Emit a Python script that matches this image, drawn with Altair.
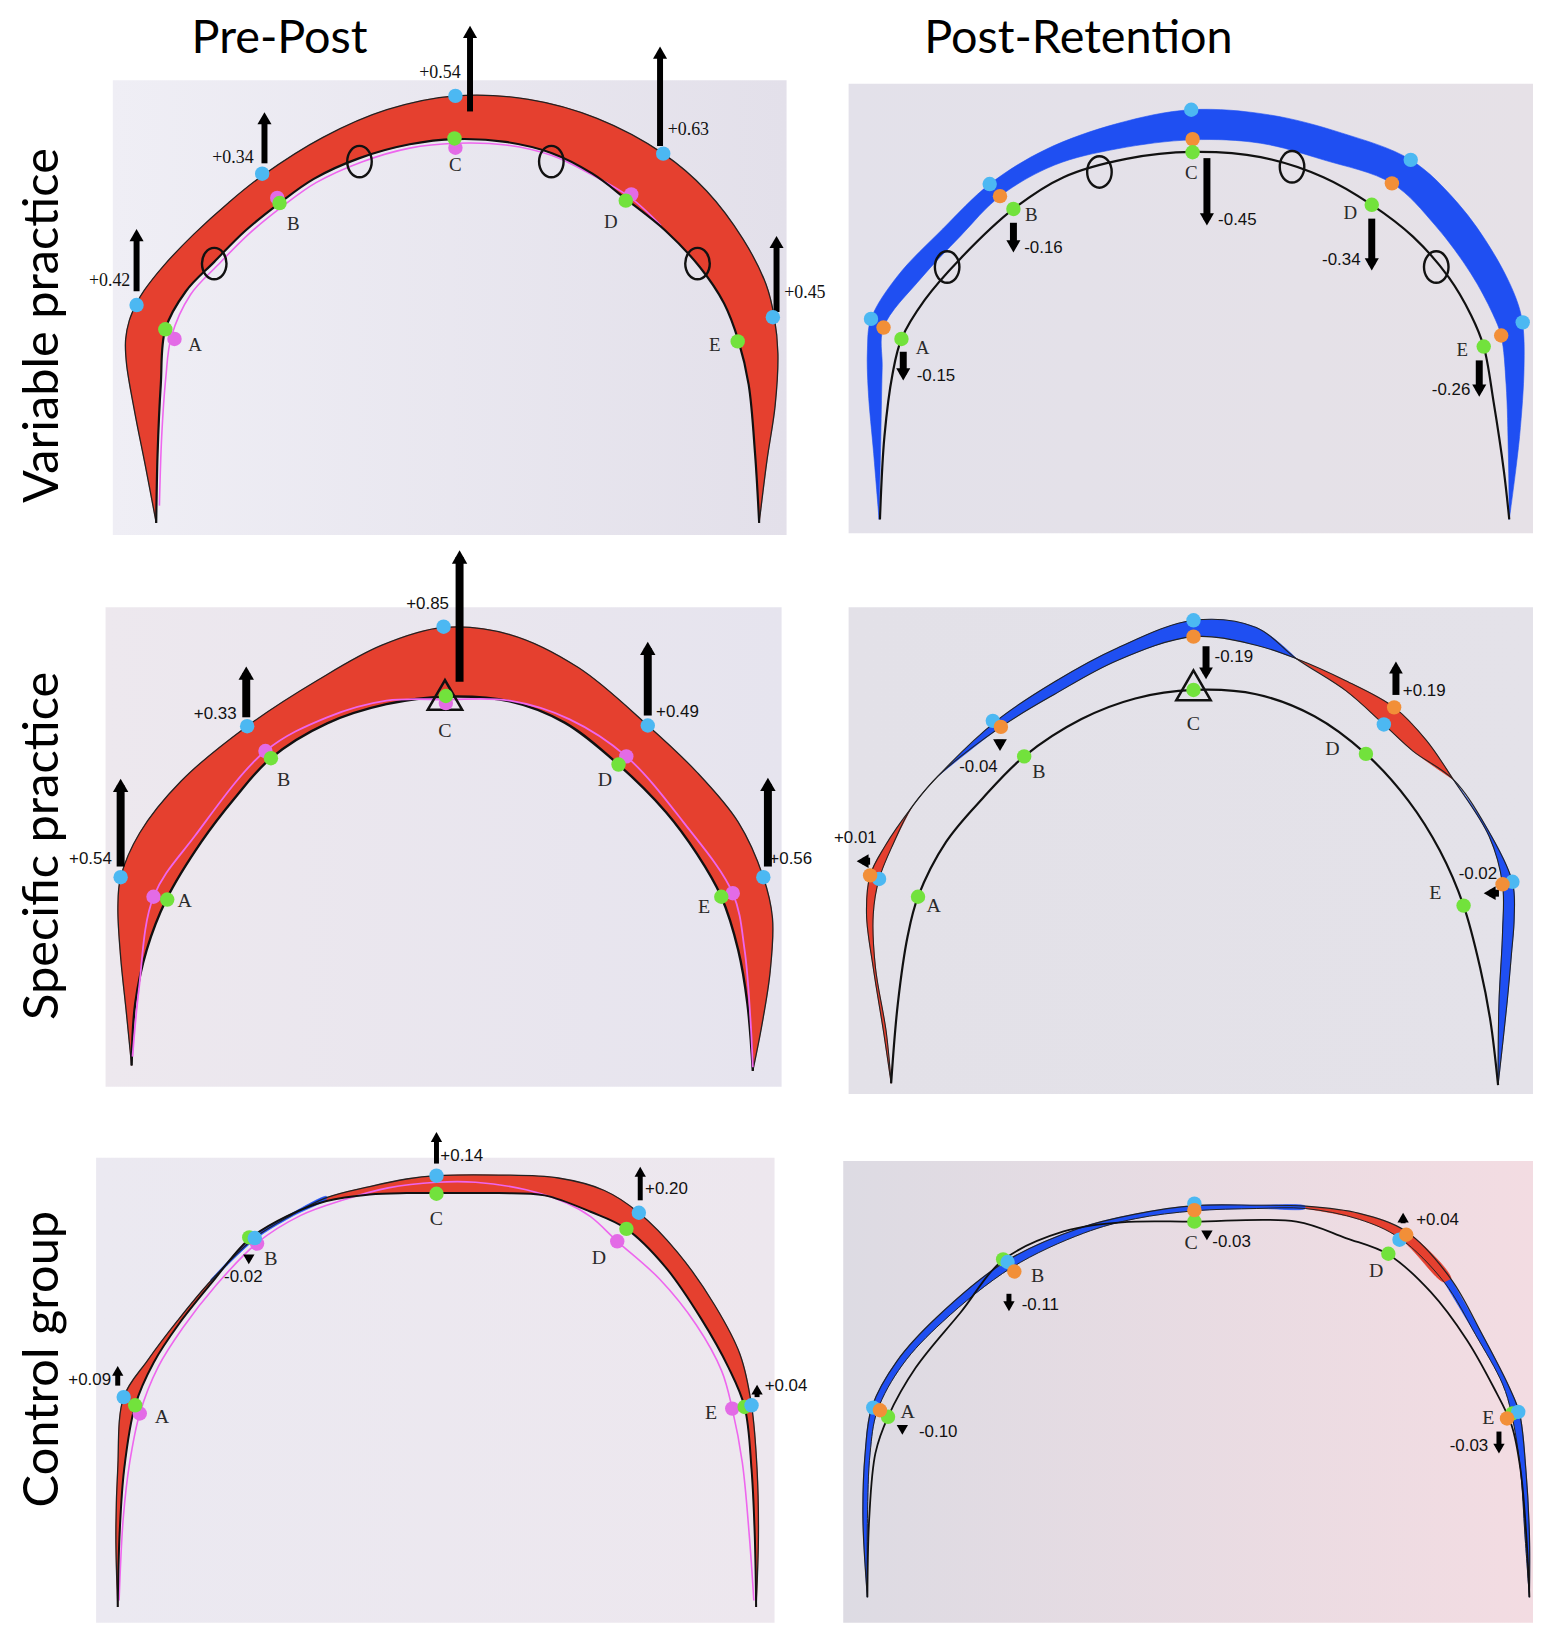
import math
import altair as alt
import pandas as pd

# ---------------------------------------------------------------------------
# Each panel was digitised in its own frame (figure pixels: x0, y0, w, h);
# digitised units run 0..1568 across and down that frame.
U = 1568.0
FRAME = {
    "vp_pp": (95, 0, 720, 545),
    "vp_pr": (835, 0, 706, 545),
    "sp_pp": (90, 540, 720, 560),
    "sp_pr": (835, 540, 706, 560),
    "cg_pp": (85, 1110, 725, 517),
    "cg_pr": (835, 1110, 706, 517),
}
# visible window of every panel (figure pixels: x0, y0, x1, y1)
WIN = {
    "vp_pp": (8, 8, 815, 545),
    "vp_pr": (815, 8, 1533, 545),
    "sp_pp": (8, 545, 815, 1100),
    "sp_pr": (815, 545, 1533, 1100),
    "cg_pp": (8, 1100, 815, 1619),
    "cg_pr": (815, 1100, 1533, 1619),
}

HEADERS = ["Pre-Post", "Post-Retention"]
HEADER_AT = [(281, 49), (1084, 49)]
ROW_LABELS = ["Variable practice", "Specific practice", "Control group"]
ROW_LABEL_AT = [(58, 323), (58, 846), (58, 1362)]
LETTERS = ["A", "B", "C", "D", "E"]

# ---------------- Variable practice, Pre-Post ----------------
VP_PP_BG = [(40, 220), (1515, 1535)]
VP_PP_OUTER = [(135, 1500), (112, 1340), (88, 1180), (70, 1040), (68, 970), (76, 915), (92, 865),
               (109, 827), (152, 755), (218, 664), (294, 573), (367, 496), (500, 385), (640, 305),
               (790, 265), (950, 275), (1100, 330), (1245, 432), (1340, 540), (1420, 680),
               (1470, 810), (1488, 905), (1496, 1010), (1490, 1160), (1472, 1320), (1455, 1500)]
VP_PP_INNER = [(135, 1500), (138, 1300), (145, 1100), (155, 940), (200, 830), (262, 745), (330, 655),
               (405, 575), (480, 505), (580, 445), (690, 405), (790, 390), (900, 398), (1000, 430),
               (1090, 490), (1165, 565), (1250, 655), (1325, 760), (1378, 865), (1410, 975),
               (1432, 1100), (1446, 1300), (1455, 1500)]
VP_PP_MAGENTA = [(142, 1450), (147, 1250), (156, 1080), (168, 962), (210, 840), (270, 754), (338, 664),
                 (410, 586), (485, 516), (585, 456), (690, 416), (790, 402), (900, 407), (1000, 437),
                 (1090, 494), (1172, 558), (1240, 640)]
VP_PP_BLUE = [(92, 870), (367, 490), (790, 265), (1245, 432), (1485, 905)]
VP_PP_GREEN = [(155, 940), (405, 575), (788, 388), (1163, 568), (1408, 975)]
VP_PP_PINK = [(175, 968), (400, 560), (790, 415), (1175, 550)]
VP_PP_ARROW_BASE = [(92, 830), (372, 460), (822, 310), (1238, 410), (1493, 890)]
VP_PP_ARROW_TIP = [(92, 650), (372, 312), (822, 62), (1238, 122), (1493, 670)]
VP_PP_CHANGE = ["+0.42", "+0.34", "+0.54", "+0.63", "+0.45"]
VP_PP_CHANGE_AT = [(33, 800), (303, 445), (756, 200), (1300, 365), (1555, 835)]
VP_PP_LETTER_AT = [(220, 985), (435, 635), (790, 465), (1130, 630), (1358, 985)]
VP_PP_OVALS = [(580, 455), (1000, 455), (262, 750), (1320, 750)]

# ---------------- Variable practice, Post-Retention ----------------
VP_PR_BG = [(40, 230), (1568, 1530)]
VP_PR_OUTER = [(108, 1490), (96, 1300), (84, 1120), (82, 1000), (90, 910), (150, 785), (250, 650),
               (355, 520), (480, 420), (640, 345), (805, 305), (980, 320), (1140, 372), (1295, 450),
               (1400, 575), (1480, 720), (1530, 850), (1545, 925), (1548, 1050), (1538, 1250),
               (1515, 1490)]
VP_PR_MID = [(108, 1490), (112, 1250), (115, 1050), (118, 935), (200, 795), (290, 670), (378, 555),
             (500, 465), (640, 418), (808, 392), (960, 402), (1100, 450), (1253, 518), (1350, 640),
             (1430, 780), (1478, 895), (1497, 960), (1508, 1100), (1513, 1300), (1515, 1490)]
VP_PR_INNER = [(110, 1490), (120, 1250), (138, 1070), (158, 968), (210, 855), (290, 735), (408, 592),
               (520, 500), (660, 447), (808, 427), (960, 442), (1100, 500), (1208, 580), (1300, 672),
               (1380, 790), (1430, 900), (1458, 990), (1480, 1150), (1503, 1350), (1515, 1490)]
VP_PR_BLUE = [(90, 910), (355, 520), (805, 305), (1295, 450), (1545, 920)]
VP_PR_ORANGE = [(118, 935), (378, 555), (808, 390), (1253, 518), (1497, 958)]
VP_PR_GREEN = [(158, 968), (408, 592), (808, 428), (1208, 580), (1458, 990)]
VP_PR_ARROW_BASE = [(162, 1005), (408, 632), (840, 445), (1208, 620), (1448, 1030)]
VP_PR_ARROW_TIP = [(162, 1088), (408, 718), (840, 640), (1208, 770), (1448, 1135)]
VP_PR_CHANGE = ["-0.15", "-0.16", "-0.45", "-0.34", "-0.26"]
VP_PR_CHANGE_AT = [(235, 1075), (475, 705), (908, 625), (1140, 740), (1385, 1115)]
VP_PR_LETTER_AT = [(205, 995), (448, 610), (805, 487), (1160, 605), (1410, 1000)]
VP_PR_OVALS = [(600, 485), (1030, 470), (260, 760), (1352, 760)]

# ---------------- Specific practice, Pre-Post ----------------
SP_PP_BG = [(35, 185), (1515, 1535)]
SP_PP_OUTER = [(92, 1475), (80, 1320), (68, 1170), (62, 1030), (68, 945), (110, 820), (200, 675),
               (345, 520), (500, 390), (640, 292), (775, 242), (920, 262), (1070, 355), (1222, 518),
               (1330, 650), (1420, 790), (1475, 945), (1495, 1060), (1490, 1210), (1472, 1360),
               (1452, 1490)]
SP_PP_INNER = [(92, 1475), (100, 1300), (125, 1150), (168, 1008), (245, 845), (318, 722), (397, 610),
               (520, 512), (650, 458), (780, 437), (920, 450), (1040, 510), (1158, 628), (1262, 762),
               (1330, 880), (1383, 1000), (1420, 1150), (1440, 1300), (1452, 1490)]
SP_PP_MAGENTA = [(94, 1450), (108, 1260), (140, 1000), (230, 830), (385, 590), (520, 495), (650, 448),
                 (780, 445), (920, 448), (1050, 500), (1175, 605), (1300, 790), (1408, 990),
                 (1434, 1150), (1447, 1350), (1452, 1480)]
SP_PP_BLUE = [(68, 945), (345, 520), (775, 240), (1222, 518), (1475, 945)]
SP_PP_GREEN = [(170, 1008), (397, 610), (780, 435), (1158, 628), (1383, 1000)]
SP_PP_PINK = [(140, 1000), (385, 590), (780, 455), (1175, 605), (1408, 990)]
SP_PP_ARROW_BASE = [(68, 915), (343, 495), (810, 395), (1222, 490), (1485, 915)]
SP_PP_ARROW_TIP = [(68, 668), (343, 352), (810, 25), (1222, 282), (1485, 665)]
SP_PP_CHANGE = ["+0.54", "+0.33", "+0.85", "+0.49", "+0.56"]
SP_PP_CHANGE_AT = [(2, 895), (275, 485), (740, 175), (1287, 480), (1535, 895)]
SP_PP_LETTER_AT = [(208, 1012), (425, 672), (778, 535), (1128, 672), (1345, 1030)]
SP_PP_TRIANGLE = [(778, 432)]

# ---------------- Specific practice, Post-Retention ----------------
SP_PR_BG = [(40, 185), (1568, 1555)]
SP_PR_POST = [(135, 1525), (118, 1380), (95, 1200), (80, 1050), (88, 940), (120, 860), (180, 750),
              (240, 660), (380, 522), (500, 430), (640, 335), (810, 268), (950, 292), (1040, 330),
              (1150, 392), (1258, 467), (1330, 560), (1390, 670), (1470, 830), (1500, 965),
              (1500, 1100), (1492, 1300), (1490, 1530)]
SP_PR_RET = [(135, 1525), (124, 1380), (100, 1200), (95, 1050), (108, 950), (140, 850), (180, 750),
             (240, 660), (370, 505), (500, 395), (640, 300), (810, 222), (950, 242), (1040, 330),
             (1150, 420), (1235, 515), (1300, 590), (1390, 670), (1462, 800), (1522, 958),
             (1526, 1060), (1520, 1160), (1510, 1300), (1490, 1530)]
SP_PR_INNER = [(135, 1525), (150, 1300), (172, 1110), (195, 1000), (258, 845), (340, 722), (432, 605),
               (560, 500), (680, 442), (810, 418), (950, 430), (1080, 492), (1195, 598), (1290, 730),
               (1360, 870), (1413, 1025), (1450, 1200), (1473, 1350), (1490, 1530)]
SP_PR_BLUE = [(108, 950), (362, 505), (810, 222), (1235, 515), (1522, 958)]
SP_PR_ORANGE = [(88, 940), (380, 522), (810, 268), (1258, 467), (1500, 965)]
SP_PR_GREEN = [(195, 1000), (432, 605), (810, 418), (1195, 598), (1413, 1025)]
SP_PR_ARROW_BASE = [(88, 900), (378, 558), (838, 295), (1262, 432), (1492, 990)]
SP_PR_ARROW_TIP = [(58, 900), (378, 590), (838, 388), (1262, 338), (1458, 990)]
SP_PR_CHANGE = ["+0.01", "-0.04", "-0.19", "+0.19", "-0.02"]
SP_PR_CHANGE_AT = [(55, 835), (330, 635), (900, 325), (1325, 422), (1445, 935)]
SP_PR_LETTER_AT = [(230, 1025), (465, 650), (810, 515), (1120, 585), (1350, 990)]
SP_PR_TRIANGLE = [(810, 405)]

# ---------------- Control group, Pre-Post ----------------
CG_PP_BG = [(25, 150), (1500, 1568)]
CG_PP_OUTER = [(72, 1520), (68, 1300), (72, 1100), (85, 880), (137, 768), (202, 647), (274, 526),
               (370, 394), (450, 325), (526, 272), (620, 238), (700, 215), (765, 205), (900, 203),
               (1030, 212), (1130, 250), (1205, 318), (1290, 440), (1370, 600), (1425, 750),
               (1450, 905), (1462, 1100), (1465, 1300), (1460, 1520)]
CG_PP_INNER = [(72, 1520), (76, 1300), (86, 1100), (110, 905), (150, 775), (205, 657), (276, 532),
               (358, 398), (440, 328), (526, 282), (620, 262), (700, 258), (765, 258), (900, 258),
               (1000, 265), (1100, 315), (1178, 367), (1262, 482), (1340, 640), (1400, 790),
               (1435, 910), (1450, 1100), (1457, 1300), (1460, 1520)]
CG_PP_BLUE_SLIVER = [(274, 522), (370, 389), (450, 320), (526, 268), (526, 276), (450, 330), (370, 400),
                     (274, 530)]
CG_PP_MAGENTA = [(75, 1500), (84, 1250), (98, 1080), (120, 930), (160, 788), (214, 668), (284, 542),
                 (375, 410), (470, 326), (560, 280), (660, 242), (765, 225), (850, 225), (960, 248),
                 (1050, 290), (1100, 330), (1158, 405), (1250, 520), (1330, 660), (1385, 800),
                 (1408, 915), (1430, 1080), (1445, 1300), (1455, 1500)]
CG_PP_BLUE = [(85, 880), (370, 395), (765, 205), (1205, 318), (1450, 905)]
CG_PP_GREEN = [(110, 905), (358, 393), (765, 260), (1178, 367), (1435, 910)]
CG_PP_PINK = [(120, 930), (375, 412), (1158, 405), (1408, 915)]
CG_PP_ARROW_BASE = [(72, 845), (357, 448), (765, 168), (1208, 280), (1462, 880)]
CG_PP_ARROW_TIP = [(72, 785), (357, 475), (765, 72), (1208, 178), (1462, 842)]
CG_PP_CHANGE = ["+0.09", "-0.02", "+0.14", "+0.20", "+0.04"]
CG_PP_CHANGE_AT = [(11, 828), (345, 515), (820, 145), (1265, 245), (1525, 845)]
CG_PP_LETTER_AT = [(168, 940), (405, 458), (765, 337), (1118, 455), (1362, 930)]

# ---------------- Control group, Post-Retention ----------------
CG_PR_BG = [(28, 160), (1568, 1568)]
CG_PR_EDGE1 = [(82, 1490), (72, 1250), (77, 1050), (92, 910), (148, 770), (238, 635), (392, 465),
               (555, 365), (680, 322), (812, 296), (950, 295), (1060, 298), (1180, 320), (1285, 375),
               (1385, 520), (1455, 690), (1515, 850), (1538, 930), (1552, 1100), (1560, 1300),
               (1560, 1490)]
CG_PR_EDGE2 = [(82, 1490), (82, 1250), (88, 1050), (104, 922), (160, 782), (250, 650), (404, 485),
               (565, 380), (680, 336), (812, 312), (950, 305), (1060, 305), (1180, 338), (1270, 395),
               (1370, 530), (1440, 690), (1500, 840), (1520, 930), (1540, 1100), (1550, 1300),
               (1560, 1490)]
CG_PR_PRE = [(82, 1490), (86, 1250), (100, 1050), (128, 940), (190, 790), (290, 622), (385, 462),
             (520, 375), (650, 347), (812, 345), (1040, 345), (1150, 395), (1245, 445), (1340, 560),
             (1420, 705), (1480, 850), (1520, 965), (1540, 1100), (1553, 1300), (1560, 1490)]
CG_PR_GREEN = [(128, 940), (385, 460), (812, 345), (1245, 443), (1522, 930)]
CG_PR_BLUE = [(95, 912), (395, 468), (812, 290), (1270, 400), (1535, 925)]
CG_PR_ORANGE = [(110, 920), (410, 497), (812, 310), (1285, 385), (1510, 945)]
CG_PR_ARROW_BASE = [(160, 968), (398, 565), (840, 375), (1278, 350), (1492, 985)]
CG_PR_ARROW_TIP = [(160, 995), (398, 618), (840, 402), (1278, 318), (1492, 1052)]
CG_PR_CHANGE = ["-0.10", "-0.11", "-0.03", "+0.04", "-0.03"]
CG_PR_CHANGE_AT = [(240, 985), (468, 600), (895, 408), (1355, 340), (1425, 1030)]
CG_PR_LETTER_AT = [(172, 925), (462, 510), (805, 410), (1218, 497), (1468, 945)]

# ---------------- colours ----------------
RED = "#e5402f"
BLUE = "#1f4ff2"
DOT_BLUE = "#4cb8f2"
DOT_GREEN = "#72e23c"
DOT_PINK = "#e36be6"
DOT_ORANGE = "#f28f38"
MAGENTA_LINE = "#ee66ee"

SANS_NARROW = "Liberation Sans Narrow, Liberation Sans, Arial, sans-serif"
SERIF = "Liberation Serif, Times New Roman, serif"
TITLE_FONT = "Lato, Open Sans, sans-serif"
OVAL = "M-0.78,0A0.78,1 0 1,1 0.78,0A0.78,1 0 1,1 -0.78,0Z"


def to_fig(key, pts):
    x0, y0, w, h = FRAME[key]
    return [(x0 + u * w / U, y0 + v * h / U) for u, v in pts]


def band(a, b):
    return list(a) + list(b)[::-1]


SPECS = {
    "vp_pp": dict(
        bg=VP_PP_BG, bg_colors=("#efeef5", "#e3e0ea"),
        bands=[(band(VP_PP_OUTER, VP_PP_INNER), RED)],
        lines=[(VP_PP_OUTER, "#222222", 1.3), (VP_PP_MAGENTA, MAGENTA_LINE, 1.6), (VP_PP_INNER, "#111111", 2.2)],
        ovals=VP_PP_OVALS, triangles=[],
        dots=[(VP_PP_PINK, DOT_PINK), (VP_PP_GREEN, DOT_GREEN), (VP_PP_BLUE, DOT_BLUE)],
        arrows=(VP_PP_ARROW_BASE, VP_PP_ARROW_TIP), shaft=6, head=200,
        change=(VP_PP_CHANGE, VP_PP_CHANGE_AT), change_font=(SERIF, 18, "normal"),
        letters=VP_PP_LETTER_AT, letter_size=19,
    ),
    "vp_pr": dict(
        bg=VP_PR_BG, bg_colors=("#e3e1ea", "#e6e1e7"),
        bands=[(band(VP_PR_OUTER, VP_PR_MID), BLUE)],
        lines=[(VP_PR_INNER, "#111111", 2.2)],
        ovals=VP_PR_OVALS, triangles=[],
        dots=[(VP_PR_BLUE, DOT_BLUE), (VP_PR_ORANGE, DOT_ORANGE), (VP_PR_GREEN, DOT_GREEN)],
        arrows=(VP_PR_ARROW_BASE, VP_PR_ARROW_TIP), shaft=7, head=200,
        change=(VP_PR_CHANGE, VP_PR_CHANGE_AT), change_font=(SANS_NARROW, 17, "normal"),
        letters=VP_PR_LETTER_AT, letter_size=19,
    ),
    "sp_pp": dict(
        bg=SP_PP_BG, bg_colors=("#ede8ee", "#e6e4ee"),
        bands=[(band(SP_PP_OUTER, SP_PP_INNER), RED)],
        lines=[(SP_PP_OUTER, "#222222", 1.3), (SP_PP_INNER, "#111111", 2.4), (SP_PP_MAGENTA, MAGENTA_LINE, 1.8)],
        ovals=[], triangles=SP_PP_TRIANGLE,
        dots=[(SP_PP_PINK, DOT_PINK), (SP_PP_GREEN, DOT_GREEN), (SP_PP_BLUE, DOT_BLUE)],
        arrows=(SP_PP_ARROW_BASE, SP_PP_ARROW_TIP), shaft=8, head=240,
        change=(SP_PP_CHANGE, SP_PP_CHANGE_AT), change_font=(SANS_NARROW, 17, "normal"),
        letters=SP_PP_LETTER_AT, letter_size=20,
    ),
    "sp_pr": dict(
        bg=SP_PR_BG, bg_colors=("#e3e1e8", "#e4e2e9"),
        bands=[(band(SP_PR_POST[0:7], SP_PR_RET[0:7]), RED),
               (band(SP_PR_RET[7:14], SP_PR_POST[7:14]), BLUE),
               (band(SP_PR_POST[13:18], SP_PR_RET[13:18]), RED),
               (band(SP_PR_RET[17:], SP_PR_POST[17:]), BLUE)],
        lines=[(SP_PR_POST, "#222222", 1.1), (SP_PR_RET, "#222222", 1.1), (SP_PR_INNER, "#111111", 2.2)],
        ovals=[], triangles=SP_PR_TRIANGLE,
        dots=[(SP_PR_BLUE, DOT_BLUE), (SP_PR_ORANGE, DOT_ORANGE), (SP_PR_GREEN, DOT_GREEN)],
        arrows=(SP_PR_ARROW_BASE, SP_PR_ARROW_TIP), shaft=7, head=190,
        change=(SP_PR_CHANGE, SP_PR_CHANGE_AT), change_font=(SANS_NARROW, 17, "normal"),
        letters=SP_PR_LETTER_AT, letter_size=20,
    ),
    "cg_pp": dict(
        bg=CG_PP_BG, bg_colors=("#ebe9f1", "#ede7ee"),
        bands=[(band(CG_PP_OUTER, CG_PP_INNER), RED), (CG_PP_BLUE_SLIVER, BLUE)],
        lines=[(CG_PP_OUTER, "#222222", 1.3), (CG_PP_MAGENTA, MAGENTA_LINE, 1.6), (CG_PP_INNER, "#111111", 2.0)],
        ovals=[], triangles=[],
        dots=[(CG_PP_PINK, DOT_PINK), (CG_PP_GREEN, DOT_GREEN), (CG_PP_BLUE, DOT_BLUE)],
        arrows=(CG_PP_ARROW_BASE, CG_PP_ARROW_TIP), shaft=5, head=130,
        change=(CG_PP_CHANGE, CG_PP_CHANGE_AT), change_font=(SANS_NARROW, 17, "normal"),
        letters=CG_PP_LETTER_AT, letter_size=20,
    ),
    "cg_pr": dict(
        bg=CG_PR_BG, bg_colors=("#dddbe3", "#f3dce2"),
        bands=[(band(CG_PR_EDGE1[0:12], CG_PR_EDGE2[0:12]), BLUE),
               (band(CG_PR_EDGE1[11:15], CG_PR_EDGE2[11:15]), RED),
               (band(CG_PR_EDGE1[14:], CG_PR_EDGE2[14:]), BLUE)],
        lines=[(CG_PR_EDGE1, "#222222", 1.2), (CG_PR_EDGE2, "#222222", 1.0), (CG_PR_PRE, "#111111", 1.8)],
        ovals=[], triangles=[],
        dots=[(CG_PR_GREEN, DOT_GREEN), (CG_PR_BLUE, DOT_BLUE), (CG_PR_ORANGE, DOT_ORANGE)],
        arrows=(CG_PR_ARROW_BASE, CG_PR_ARROW_TIP), shaft=5, head=130,
        change=(CG_PR_CHANGE, CG_PR_CHANGE_AT), change_font=(SANS_NARROW, 17, "normal"),
        letters=CG_PR_LETTER_AT, letter_size=20,
    ),
}


def build(key, spec, headers=(), row_label=None):
    X0, Y0, X1, Y1 = WIN[key]
    xs = alt.Scale(domain=[X0, X1], nice=False, zero=False)
    ys = alt.Scale(domain=[Y0, Y1], nice=False, zero=False, reverse=True)

    def X(f="x"):
        return alt.X(f"{f}:Q", scale=xs, axis=None)

    def Y(f="y"):
        return alt.Y(f"{f}:Q", scale=ys, axis=None)

    layers = []
    (bx0, by0), (bx1, by1) = to_fig(key, spec["bg"])
    c0, c1 = spec["bg_colors"]
    grad = alt.Gradient(gradient="linear",
                        stops=[alt.GradientStop(color=c0, offset=0), alt.GradientStop(color=c1, offset=1)],
                        x1=0, x2=1, y1=0, y2=0)
    layers.append(alt.Chart(pd.DataFrame([{"x": bx0, "y": by0, "x2": bx1, "y2": by1}]))
                  .mark_rect(fill=grad)
                  .encode(x=X(), x2=alt.X2("x2:Q"), y=Y(), y2=alt.Y2("y2:Q")))

    for pts, color in spec["bands"]:
        df = pd.DataFrame([{"x": x, "y": y, "i": i} for i, (x, y) in enumerate(to_fig(key, pts))])
        layers.append(alt.Chart(df).mark_line(fill=color, stroke=color, strokeWidth=0.6,
                                              interpolate="catmull-rom")
                      .encode(x=X(), y=Y(), order=alt.Order("i:Q")))

    for pts, color, w in spec["lines"]:
        df = pd.DataFrame([{"x": x, "y": y, "i": i} for i, (x, y) in enumerate(to_fig(key, pts))])
        layers.append(alt.Chart(df).mark_line(stroke=color, strokeWidth=w, interpolate="catmull-rom")
                      .encode(x=X(), y=Y(), order=alt.Order("i:Q")))

    if spec["ovals"]:
        df = pd.DataFrame([{"x": x, "y": y} for x, y in to_fig(key, spec["ovals"])])
        layers.append(alt.Chart(df).mark_point(shape=OVAL, filled=False, stroke="#111111",
                                               strokeWidth=2.4, size=1000, opacity=1)
                      .encode(x=X(), y=Y()))
    if spec["triangles"]:
        df = pd.DataFrame([{"x": x, "y": y} for x, y in to_fig(key, spec["triangles"])])
        layers.append(alt.Chart(df).mark_point(shape="triangle-up", filled=False, stroke="#111111",
                                               strokeWidth=2.5, size=1200, opacity=1)
                      .encode(x=X(), y=Y()))

    # arrows
    bases, tips = spec["arrows"]
    shafts, heads = [], []
    hh = math.sqrt(spec["head"]) / 2 * math.sqrt(3) / 2
    for (bx, by), (tx, ty) in zip(to_fig(key, bases), to_fig(key, tips)):
        dx, dy = tx - bx, ty - by
        if abs(dy) >= abs(dx):
            shape = "triangle-up" if dy < 0 else "triangle-down"
            ux, uy = 0.0, (-1.0 if dy < 0 else 1.0)
        else:
            shape = "triangle-left" if dx < 0 else "triangle-right"
            ux, uy = (-1.0 if dx < 0 else 1.0), 0.0
        cx, cy = tx - ux * hh, ty - uy * hh
        shafts.append({"x": bx, "y": by, "x2": cx, "y2": cy})
        heads.append({"x": cx, "y": cy, "s": shape})
    layers.append(alt.Chart(pd.DataFrame(shafts)).mark_rule(color="#000000", strokeWidth=spec["shaft"])
                  .encode(x=X(), y=Y(), x2=alt.X2("x2:Q"), y2=alt.Y2("y2:Q")))
    layers.append(alt.Chart(pd.DataFrame(heads)).mark_point(filled=True, color="#000000", opacity=1,
                                                            size=spec["head"])
                  .encode(x=X(), y=Y(), shape=alt.Shape("s:N", scale=None)))

    # dots
    rows = []
    for pts, color in spec["dots"]:
        for x, y in to_fig(key, pts):
            rows.append({"x": x, "y": y, "c": color})
    layers.append(alt.Chart(pd.DataFrame(rows)).mark_point(filled=True, size=210, opacity=1)
                  .encode(x=X(), y=Y(), color=alt.Color("c:N", scale=None)))

    # letters
    df = pd.DataFrame([{"x": x, "y": y, "t": t}
                       for (x, y), t in zip(to_fig(key, spec["letters"]), LETTERS)])
    layers.append(alt.Chart(df).mark_text(font=SERIF, fontSize=spec["letter_size"], color="#2a2a2a",
                                          baseline="middle")
                  .encode(x=X(), y=Y(), text="t:N"))

    # change values
    texts, pos = spec["change"]
    fam, fs, fw = spec["change_font"]
    df = pd.DataFrame([{"x": x, "y": y, "t": t} for (x, y), t in zip(to_fig(key, pos), texts)])
    layers.append(alt.Chart(df).mark_text(font=fam, fontSize=fs, fontWeight=fw, color="#111111",
                                          baseline="middle")
                  .encode(x=X(), y=Y(), text="t:N"))

    for (hx, hy), t in headers:
        layers.append(alt.Chart(pd.DataFrame([{"x": hx, "y": hy, "t": t}]))
                      .mark_text(font=TITLE_FONT, fontSize=47, color="#000000", baseline="alphabetic")
                      .encode(x=X(), y=Y(), text="t:N"))
    if row_label is not None:
        (rx, ry), t = row_label
        layers.append(alt.Chart(pd.DataFrame([{"x": rx, "y": ry, "t": t}]))
                      .mark_text(font=TITLE_FONT, fontSize=49, color="#000000", angle=270,
                                 baseline="alphabetic", align="center")
                      .encode(x=X(), y=Y(), text="t:N"))

    return alt.layer(*layers).properties(width=X1 - X0, height=Y1 - Y0)


p1 = build("vp_pp", SPECS["vp_pp"], headers=[(HEADER_AT[0], HEADERS[0])],
           row_label=(ROW_LABEL_AT[0], ROW_LABELS[0]))
p2 = build("vp_pr", SPECS["vp_pr"], headers=[(HEADER_AT[1], HEADERS[1])])
p3 = build("sp_pp", SPECS["sp_pp"], row_label=(ROW_LABEL_AT[1], ROW_LABELS[1]))
p4 = build("sp_pr", SPECS["sp_pr"])
p5 = build("cg_pp", SPECS["cg_pp"], row_label=(ROW_LABEL_AT[2], ROW_LABELS[2]))
p6 = build("cg_pr", SPECS["cg_pr"])

chart = (alt.concat(p1, p2, p3, p4, p5, p6, columns=2, spacing=0, bounds="flush")
         .properties(padding=0, background="#ffffff")
         .configure_view(stroke=None))

chart.save("out.html", embed_options={"renderer": "svg", "actions": False})
